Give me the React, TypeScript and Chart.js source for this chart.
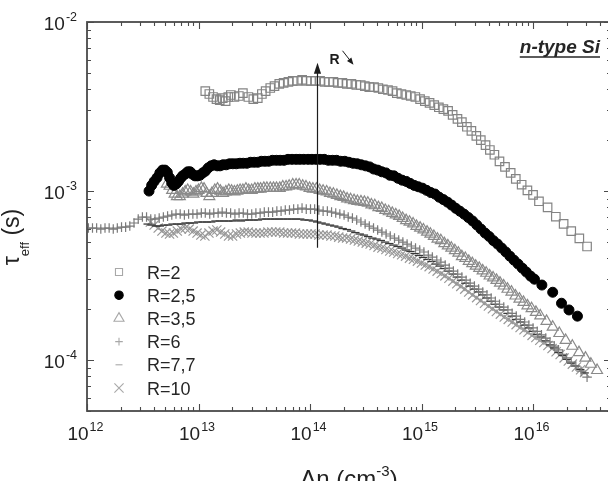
import { useEffect, useRef } from "react";
import { Chart, registerables } from "chart.js";

Chart.register(...registerables);

// ---- axis ranges and labelled decades ----
const X_MIN = 1e12;
const X_MAX = 5e16;
const Y_MIN = 5e-5;
const Y_MAX = 1e-2;
const xTickExponents = ["12", "13", "14", "15", "16"];
const yTickExponents = ["-2", "-3", "-4"];

const seriesLabels = ["R=2", "R=2,5", "R=3,5", "R=6", "R=7,7", "R=10"];

// ---- measured lifetime curves: injection level (cm^-3) vs tau_eff (s) ----
const r2X = [
  1.15e13, 1.25e13, 1.35e13, 1.45e13, 1.55e13, 1.65e13, 1.75e13, 1.85e13, 1.95e13, 2.1e13,
  2.3e13, 2.5e13, 2.8e13, 3.1e13, 3.4e13, 3.7e13, 4.0e13, 4.4e13, 4.8e13, 5.3e13,
  5.8e13, 6.4e13, 7.0e13, 7.7e13, 8.5e13, 9.3e13, 1.02e14, 1.12e14, 1.23e14, 1.35e14,
  1.48e14, 1.62e14, 1.78e14, 1.95e14, 2.14e14, 2.35e14, 2.6e14, 2.85e14, 3.1e14, 3.4e14,
  3.75e14, 4.1e14, 4.5e14, 5.0e14, 5.5e14, 6.0e14, 6.6e14, 7.3e14, 8.0e14, 8.8e14,
  9.7e14, 1.07e15, 1.18e15, 1.3e15, 1.43e15, 1.57e15, 1.73e15, 1.9e15, 2.1e15, 2.3e15,
  2.55e15, 2.8e15, 3.1e15, 3.4e15, 3.75e15, 4.1e15, 4.5e15, 5.0e15, 5.6e15, 6.3e15,
  7.0e15, 7.9e15, 8.9e15, 1.0e16, 1.13e16, 1.35e16, 1.6e16, 1.88e16, 2.2e16, 2.6e16, 3.05e16,
];
const r2Y = [
  3.9e-3, 3.75e-3, 3.6e-3, 3.5e-3, 3.45e-3, 3.55e-3, 3.4e-3, 3.6e-3, 3.7e-3, 3.6e-3,
  3.65e-3, 3.8e-3, 3.6e-3, 3.5e-3, 3.55e-3, 3.75e-3, 3.9e-3, 4.07e-3, 4.18e-3, 4.3e-3,
  4.36e-3, 4.42e-3, 4.48e-3, 4.48e-3, 4.55e-3, 4.48e-3, 4.48e-3, 4.48e-3, 4.48e-3, 4.42e-3,
  4.42e-3, 4.42e-3, 4.36e-3, 4.36e-3, 4.3e-3, 4.3e-3, 4.24e-3, 4.24e-3, 4.18e-3, 4.12e-3,
  4.12e-3, 4.07e-3, 4.0e-3, 3.96e-3, 3.9e-3, 3.8e-3, 3.75e-3, 3.7e-3, 3.65e-3, 3.6e-3,
  3.5e-3, 3.4e-3, 3.32e-3, 3.22e-3, 3.13e-3, 3.05e-3, 2.98e-3, 2.82e-3, 2.67e-3, 2.56e-3,
  2.4e-3, 2.27e-3, 2.12e-3, 2.0e-3, 1.87e-3, 1.75e-3, 1.64e-3, 1.5e-3, 1.39e-3, 1.28e-3,
  1.18e-3, 1.09e-3, 1.01e-3, 9.5e-4, 8.7e-4, 8.0e-4, 7.05e-4, 6.4e-4, 5.8e-4, 5.25e-4, 4.7e-4,
];

const r25X = [
  3.6e12, 3.8e12, 4.0e12, 4.25e12, 4.5e12, 4.75e12, 5.0e12, 5.25e12, 5.5e12, 5.75e12,
  6.0e12, 6.3e12, 6.6e12, 6.9e12, 7.2e12, 7.6e12, 8.0e12, 8.4e12, 8.8e12, 9.3e12,
  9.8e12, 1.03e13, 1.09e13, 1.15e13, 1.22e13, 1.3e13, 1.38e13, 1.47e13, 1.56e13, 1.66e13,
  1.77e13, 1.9e13, 2.03e13, 2.18e13, 2.35e13, 2.52e13, 2.72e13, 2.93e13, 3.16e13, 3.4e13,
  3.66e13, 3.94e13, 4.25e13, 4.6e13, 5.0e13, 5.4e13, 5.85e13, 6.35e13, 6.9e13, 7.5e13,
  8.1e13, 8.8e13, 9.6e13, 1.04e14, 1.13e14, 1.23e14, 1.34e14, 1.46e14, 1.59e14, 1.73e14,
  1.88e14, 2.05e14, 2.23e14, 2.43e14, 2.65e14, 2.88e14, 3.14e14, 3.42e14, 3.72e14, 4.05e14,
  4.4e14, 4.8e14, 5.2e14, 5.65e14, 6.15e14, 6.7e14, 7.3e14, 7.9e14, 8.6e14, 9.35e14,
  1.02e15, 1.11e15, 1.21e15, 1.32e15, 1.44e15, 1.57e15, 1.71e15, 1.86e15, 2.03e15, 2.21e15,
  2.41e15, 2.63e15, 2.87e15, 3.13e15, 3.41e15, 3.72e15, 4.05e15, 4.41e15, 4.8e15, 5.23e15,
  5.7e15, 6.2e15, 6.75e15, 7.35e15, 8.0e15, 8.7e15, 9.5e15, 1.03e16, 1.2e16, 1.5e16, 1.8e16, 2.1e16, 2.5e16,
];
const r25Y = [
  1.0e-3, 1.08e-3, 1.14e-3, 1.2e-3, 1.28e-3, 1.33e-3, 1.33e-3, 1.29e-3, 1.2e-3, 1.12e-3,
  1.08e-3, 1.1e-3, 1.14e-3, 1.19e-3, 1.23e-3, 1.26e-3, 1.3e-3, 1.3e-3, 1.26e-3, 1.23e-3,
  1.23e-3, 1.24e-3, 1.28e-3, 1.31e-3, 1.37e-3, 1.41e-3, 1.43e-3, 1.41e-3, 1.41e-3, 1.43e-3,
  1.43e-3, 1.45e-3, 1.45e-3, 1.45e-3, 1.46e-3, 1.46e-3, 1.46e-3, 1.48e-3, 1.48e-3, 1.48e-3,
  1.5e-3, 1.5e-3, 1.5e-3, 1.52e-3, 1.52e-3, 1.52e-3, 1.52e-3, 1.54e-3, 1.54e-3, 1.54e-3,
  1.54e-3, 1.54e-3, 1.54e-3, 1.54e-3, 1.54e-3, 1.54e-3, 1.54e-3, 1.52e-3, 1.52e-3, 1.52e-3,
  1.5e-3, 1.5e-3, 1.48e-3, 1.46e-3, 1.45e-3, 1.43e-3, 1.41e-3, 1.39e-3, 1.35e-3, 1.33e-3,
  1.3e-3, 1.28e-3, 1.24e-3, 1.23e-3, 1.19e-3, 1.16e-3, 1.14e-3, 1.11e-3, 1.08e-3, 1.06e-3,
  1.04e-3, 1.01e-3, 9.8e-4, 9.6e-4, 9.2e-4, 8.9e-4, 8.6e-4, 8.26e-4, 7.9e-4, 7.6e-4,
  7.3e-4, 6.97e-4, 6.65e-4, 6.3e-4, 5.96e-4, 5.64e-4, 5.38e-4, 5.09e-4, 4.86e-4, 4.6e-4,
  4.36e-4, 4.12e-4, 3.9e-4, 3.7e-4, 3.5e-4, 3.32e-4, 3.14e-4, 3.01e-4, 2.78e-4, 2.52e-4, 2.17e-4, 1.98e-4, 1.82e-4,
];

const r35X = [
  5.2e12, 5.5e12, 5.8e12, 6.1e12, 6.4e12, 6.8e12, 7.2e12, 7.6e12, 8.0e12, 8.5e12,
  9.0e12, 9.5e12, 1.0e13, 1.06e13, 1.12e13, 1.18e13, 1.25e13, 1.32e13, 1.4e13, 1.48e13,
  1.57e13, 1.66e13, 1.76e13, 1.87e13, 1.98e13, 2.1e13, 2.23e13, 2.36e13, 2.5e13, 2.66e13,
  2.82e13, 3.0e13, 3.2e13, 3.4e13, 3.6e13, 3.85e13, 4.1e13, 4.4e13, 4.7e13, 5.0e13,
  5.35e13, 5.7e13, 6.1e13, 6.5e13, 7.0e13, 7.5e13, 8.0e13, 8.6e13, 9.2e13, 9.9e13,
  1.06e14, 1.14e14, 1.22e14, 1.31e14, 1.41e14, 1.51e14, 1.62e14, 1.74e14, 1.87e14, 2.0e14,
  2.15e14, 2.31e14, 2.48e14, 2.66e14, 2.86e14, 3.07e14, 3.3e14, 3.55e14, 3.81e14, 4.1e14,
  4.4e14, 4.73e14, 5.08e14, 5.46e14, 5.87e14, 6.3e14, 6.77e14, 7.27e14, 7.81e14, 8.4e14,
  9.0e14, 9.7e14, 1.04e15, 1.12e15, 1.2e15, 1.29e15, 1.39e15, 1.49e15, 1.6e15, 1.72e15,
  1.85e15, 1.99e15, 2.14e15, 2.3e15, 2.47e15, 2.65e15, 2.85e15, 3.06e15, 3.29e15, 3.53e15,
  3.8e15, 4.08e15, 4.38e15, 4.7e15, 5.05e15, 5.45e15, 5.9e15, 6.4e15, 6.95e15, 7.55e15,
  8.2e15, 8.9e15, 9.7e15, 1.06e16, 1.16e16, 1.32e16, 1.5e16, 1.72e16, 1.96e16, 2.25e16,
  2.58e16, 2.95e16, 3.3e16, 3.75e16,
];
const r35Y = [
  1.1e-3, 1.07e-3, 1.01e-3, 9.6e-4, 9.3e-4, 9.3e-4, 9.6e-4, 9.9e-4, 1.01e-3, 9.9e-4,
  9.6e-4, 9.9e-4, 1.01e-3, 1.04e-3, 1.03e-3, 9.7e-4, 9.3e-4, 9.7e-4, 1.01e-3, 1.03e-3,
  1.0e-3, 9.7e-4, 9.9e-4, 1.01e-3, 1.0e-3, 9.9e-4, 1.0e-3, 1.01e-3, 1.01e-3, 1.03e-3,
  1.01e-3, 1.01e-3, 1.03e-3, 1.03e-3, 1.03e-3, 1.04e-3, 1.04e-3, 1.04e-3, 1.04e-3, 1.04e-3,
  1.04e-3, 1.06e-3, 1.06e-3, 1.07e-3, 1.09e-3, 1.09e-3, 1.09e-3, 1.07e-3, 1.06e-3, 1.04e-3,
  1.03e-3, 1.03e-3, 1.01e-3, 1.0e-3, 9.9e-4, 9.7e-4, 9.6e-4, 9.45e-4, 9.3e-4, 9.2e-4,
  9.0e-4, 8.9e-4, 8.8e-4, 8.7e-4, 8.65e-4, 8.6e-4, 8.5e-4, 8.3e-4, 8.2e-4, 8.0e-4,
  7.9e-4, 7.7e-4, 7.56e-4, 7.4e-4, 7.25e-4, 7.1e-4, 6.9e-4, 6.7e-4, 6.56e-4, 6.4e-4,
  6.2e-4, 6.05e-4, 5.9e-4, 5.73e-4, 5.57e-4, 5.4e-4, 5.2e-4, 5.1e-4, 4.9e-4, 4.75e-4,
  4.6e-4, 4.45e-4, 4.3e-4, 4.1e-4, 4.0e-4, 3.85e-4, 3.73e-4, 3.6e-4, 3.5e-4, 3.38e-4,
  3.27e-4, 3.15e-4, 3.07e-4, 2.97e-4, 2.86e-4, 2.75e-4, 2.63e-4, 2.53e-4, 2.4e-4, 2.3e-4,
  2.2e-4, 2.1e-4, 2.02e-4, 1.92e-4, 1.83e-4, 1.7e-4, 1.57e-4, 1.44e-4, 1.31e-4, 1.21e-4,
  1.11e-4, 1.03e-4, 9.47e-5, 8.7e-5,
];

const r6X = [
  1.03e12, 1.12e12, 1.22e12, 1.33e12, 1.45e12, 1.58e12, 1.72e12, 1.87e12, 2.04e12, 2.22e12,
  2.42e12, 2.64e12, 2.88e12, 3.14e12, 3.42e12, 3.73e12, 4.07e12, 4.44e12, 4.84e12, 5.28e12,
  5.76e12, 6.28e12, 6.85e12, 7.47e12, 8.15e12, 8.9e12, 9.7e12, 1.06e13, 1.15e13, 1.26e13,
  1.37e13, 1.5e13, 1.63e13, 1.78e13, 1.94e13, 2.12e13, 2.31e13, 2.52e13, 2.75e13, 3.0e13,
  3.27e13, 3.57e13, 3.89e13, 4.24e13, 4.62e13, 5.04e13, 5.5e13, 6.0e13, 6.54e13, 7.13e13,
  7.78e13, 8.48e13, 9.25e13, 1.01e14, 1.1e14, 1.2e14, 1.31e14, 1.43e14, 1.56e14, 1.7e14,
  1.85e14, 2.02e14, 2.2e14, 2.4e14, 2.62e14, 2.86e14, 3.12e14, 3.4e14, 3.71e14, 4.04e14,
  4.41e14, 4.81e14, 5.24e14, 5.72e14, 6.24e14, 6.8e14, 7.42e14, 8.1e14, 8.83e14, 9.63e14,
  1.05e15, 1.15e15, 1.25e15, 1.37e15, 1.49e15, 1.63e15, 1.77e15, 1.93e15, 2.11e15, 2.3e15,
  2.51e15, 2.73e15, 2.98e15, 3.25e15, 3.54e15, 3.86e15, 4.21e15, 4.59e15, 5.0e15, 5.46e15,
  5.95e15, 6.49e15, 7.07e15, 7.71e15, 8.41e15, 9.17e15, 1.0e16, 1.09e16, 1.19e16, 1.3e16,
  1.42e16, 1.55e16, 1.69e16, 1.84e16, 2.0e16, 2.2e16, 2.42e16, 2.7e16, 3.05e16,
];
const r6Y = [
  6.04e-4, 6.04e-4, 6.04e-4, 5.96e-4, 6.04e-4, 6.04e-4, 5.96e-4, 6.04e-4, 6.12e-4, 6.12e-4,
  6.21e-4, 6.47e-4, 6.83e-4, 7.02e-4, 7.02e-4, 6.83e-4, 6.83e-4, 6.92e-4, 7.02e-4, 7.11e-4,
  7.21e-4, 7.31e-4, 7.31e-4, 7.21e-4, 7.31e-4, 7.31e-4, 7.31e-4, 7.41e-4, 7.41e-4, 7.31e-4,
  7.41e-4, 7.41e-4, 7.51e-4, 7.41e-4, 7.41e-4, 7.31e-4, 7.41e-4, 7.41e-4, 7.31e-4, 7.31e-4,
  7.41e-4, 7.41e-4, 7.51e-4, 7.51e-4, 7.51e-4, 7.61e-4, 7.61e-4, 7.72e-4, 7.72e-4, 7.82e-4,
  7.82e-4, 7.93e-4, 7.82e-4, 7.82e-4, 7.82e-4, 7.72e-4, 7.61e-4, 7.61e-4, 7.51e-4, 7.41e-4,
  7.31e-4, 7.21e-4, 7.02e-4, 6.92e-4, 6.74e-4, 6.56e-4, 6.38e-4, 6.21e-4, 6.04e-4, 5.88e-4,
  5.72e-4, 5.57e-4, 5.42e-4, 5.27e-4, 5.13e-4, 4.99e-4, 4.86e-4, 4.73e-4, 4.6e-4, 4.48e-4,
  4.36e-4, 4.18e-4, 4.07e-4, 3.91e-4, 3.8e-4, 3.65e-4, 3.5e-4, 3.36e-4, 3.23e-4, 3.1e-4,
  2.97e-4, 2.85e-4, 2.74e-4, 2.63e-4, 2.53e-4, 2.43e-4, 2.33e-4, 2.23e-4, 2.14e-4, 2.06e-4,
  1.98e-4, 1.89e-4, 1.82e-4, 1.74e-4, 1.68e-4, 1.61e-4, 1.55e-4, 1.48e-4, 1.41e-4, 1.35e-4,
  1.28e-4, 1.21e-4, 1.15e-4, 1.08e-4, 1.03e-4, 9.73e-5, 9.22e-5, 8.6e-5, 7.93e-5,
];

const r77X = [
  3.5e12, 3.8e12, 4.15e12, 4.5e12, 4.9e12, 5.35e12, 5.85e12, 6.4e12, 7.0e12, 7.65e12,
  8.35e12, 9.1e12, 9.95e12, 1.09e13, 1.19e13, 1.3e13, 1.42e13, 1.55e13, 1.69e13, 1.85e13,
  2.02e13, 2.2e13, 2.4e13, 2.62e13, 2.86e13, 3.12e13, 3.41e13, 3.72e13, 4.06e13, 4.43e13,
  4.84e13, 5.28e13, 5.76e13, 6.29e13, 6.86e13, 7.49e13, 8.17e13, 8.92e13, 9.73e13, 1.06e14,
  1.16e14, 1.27e14, 1.38e14, 1.51e14, 1.65e14, 1.8e14, 1.96e14, 2.14e14, 2.34e14, 2.55e14,
  2.79e14, 3.04e14, 3.32e14, 3.62e14, 3.95e14, 4.31e14, 4.71e14, 5.14e14, 5.61e14, 6.12e14,
  6.68e14, 7.29e14, 7.95e14, 8.68e14, 9.47e14, 1.03e15, 1.13e15, 1.23e15, 1.34e15, 1.46e15,
  1.6e15, 1.74e15, 1.9e15, 2.07e15, 2.26e15, 2.47e15, 2.69e15, 2.94e15, 3.2e15, 3.5e15,
  3.82e15, 4.17e15, 4.55e15, 4.96e15, 5.41e15, 5.9e15, 6.44e15, 7.03e15, 7.67e15, 8.37e15,
  9.13e15, 9.96e15, 1.09e16, 1.19e16, 1.3e16, 1.42e16, 1.55e16, 1.69e16, 1.84e16, 2.01e16,
  2.2e16, 2.4e16, 2.65e16, 2.9e16,
];
const r77Y = [
  6.38e-4, 6.29e-4, 6.21e-4, 6.21e-4, 6.29e-4, 6.29e-4, 6.38e-4, 6.38e-4, 6.38e-4, 6.47e-4,
  6.47e-4, 6.47e-4, 6.56e-4, 6.56e-4, 6.56e-4, 6.56e-4, 6.65e-4, 6.65e-4, 6.65e-4, 6.65e-4,
  6.65e-4, 6.74e-4, 6.65e-4, 6.74e-4, 6.74e-4, 6.74e-4, 6.74e-4, 6.83e-4, 6.83e-4, 6.83e-4,
  6.83e-4, 6.83e-4, 6.83e-4, 6.83e-4, 6.83e-4, 6.83e-4, 6.83e-4, 6.74e-4, 6.74e-4, 6.65e-4,
  6.56e-4, 6.47e-4, 6.38e-4, 6.29e-4, 6.21e-4, 6.12e-4, 6.0e-4, 5.92e-4, 5.8e-4, 5.68e-4,
  5.57e-4, 5.49e-4, 5.38e-4, 5.27e-4, 5.2e-4, 5.1e-4, 4.99e-4, 4.89e-4, 4.79e-4, 4.7e-4,
  4.6e-4, 4.48e-4, 4.39e-4, 4.27e-4, 4.16e-4, 4.05e-4, 3.94e-4, 3.83e-4, 3.7e-4, 3.6e-4,
  3.48e-4, 3.36e-4, 3.23e-4, 3.1e-4, 2.97e-4, 2.85e-4, 2.74e-4, 2.63e-4, 2.53e-4, 2.43e-4,
  2.33e-4, 2.23e-4, 2.14e-4, 2.06e-4, 1.98e-4, 1.89e-4, 1.82e-4, 1.74e-4, 1.68e-4, 1.61e-4,
  1.55e-4, 1.48e-4, 1.42e-4, 1.37e-4, 1.3e-4, 1.23e-4, 1.18e-4, 1.11e-4, 1.065e-4, 1.01e-4,
  9.6e-5, 9.22e-5, 8.8e-5, 8.4e-5,
];

const r10X = [
  3.7e12, 4.0e12, 4.35e12, 4.7e12, 5.1e12, 5.5e12, 5.95e12, 6.45e12, 7.0e12, 7.6e12,
  8.25e12, 8.95e12, 9.7e12, 1.05e13, 1.14e13, 1.24e13, 1.35e13, 1.46e13, 1.58e13, 1.72e13,
  1.86e13, 2.02e13, 2.19e13, 2.37e13, 2.57e13, 2.79e13, 3.02e13, 3.28e13, 3.56e13, 3.86e13,
  4.19e13, 4.54e13, 4.93e13, 5.35e13, 5.8e13, 6.29e13, 6.82e13, 7.4e13, 8.03e13, 8.71e13,
  9.45e13, 1.02e14, 1.11e14, 1.2e14, 1.31e14, 1.42e14, 1.54e14, 1.67e14, 1.81e14, 1.96e14,
  2.13e14, 2.31e14, 2.5e14, 2.71e14, 2.94e14, 3.19e14, 3.46e14, 3.75e14, 4.07e14, 4.41e14,
  4.79e14, 5.19e14, 5.63e14, 6.11e14, 6.63e14, 7.19e14, 7.8e14, 8.46e14, 9.18e14, 9.96e14,
  1.08e15, 1.17e15, 1.27e15, 1.38e15, 1.5e15, 1.62e15, 1.76e15, 1.91e15, 2.07e15, 2.25e15,
  2.44e15, 2.65e15, 2.87e15, 3.12e15, 3.38e15, 3.67e15, 3.98e15, 4.32e15, 4.69e15, 5.09e15,
  5.52e15, 5.99e15, 6.5e15, 7.05e15, 7.65e15, 8.3e15, 9.0e15, 9.8e15, 1.06e16, 1.15e16,
  1.25e16, 1.36e16, 1.48e16, 1.61e16, 1.75e16, 1.9e16, 2.07e16, 2.25e16, 2.45e16, 2.67e16, 2.9e16,
];
const r10Y = [
  6.56e-4, 6.29e-4, 6.04e-4, 5.8e-4, 5.64e-4, 5.57e-4, 5.64e-4, 5.8e-4, 5.96e-4, 6.04e-4,
  5.96e-4, 5.8e-4, 5.64e-4, 5.49e-4, 5.42e-4, 5.64e-4, 5.8e-4, 5.88e-4, 5.72e-4, 5.57e-4,
  5.42e-4, 5.42e-4, 5.57e-4, 5.64e-4, 5.72e-4, 5.72e-4, 5.64e-4, 5.64e-4, 5.64e-4, 5.64e-4,
  5.72e-4, 5.72e-4, 5.72e-4, 5.72e-4, 5.64e-4, 5.64e-4, 5.64e-4, 5.64e-4, 5.57e-4, 5.57e-4,
  5.57e-4, 5.57e-4, 5.57e-4, 5.49e-4, 5.49e-4, 5.49e-4, 5.42e-4, 5.42e-4, 5.34e-4, 5.27e-4,
  5.27e-4, 5.2e-4, 5.13e-4, 5.06e-4, 4.99e-4, 4.92e-4, 4.86e-4, 4.76e-4, 4.66e-4, 4.6e-4,
  4.51e-4, 4.42e-4, 4.36e-4, 4.27e-4, 4.2e-4, 4.12e-4, 4.01e-4, 3.95e-4, 3.85e-4, 3.75e-4,
  3.65e-4, 3.57e-4, 3.46e-4, 3.36e-4, 3.25e-4, 3.15e-4, 3.05e-4, 2.93e-4, 2.83e-4, 2.73e-4,
  2.63e-4, 2.53e-4, 2.43e-4, 2.34e-4, 2.25e-4, 2.17e-4, 2.09e-4, 2.01e-4, 1.94e-4, 1.87e-4,
  1.8e-4, 1.74e-4, 1.68e-4, 1.62e-4, 1.56e-4, 1.51e-4, 1.46e-4, 1.4e-4, 1.36e-4, 1.31e-4,
  1.27e-4, 1.22e-4, 1.17e-4, 1.12e-4, 1.08e-4, 1.03e-4, 9.87e-5, 9.47e-5, 9.1e-5, 8.77e-5, 8.46e-5,
];

// vertical arrow marking the trend with R
const arrowX = 1.15e14;
const arrowFrom = 4.62e-4;
const arrowTo = 5.74e-3;

// ---- styling ----
const FONT = '"Liberation Sans", Arial, Helvetica, sans-serif';
const INK = "#222222";
const AXIS = "#4a4a4a";
const CLEAR = "rgba(0,0,0,0)";

type Marker = {
  style: string;
  radius: number;
  width: number;
  stroke: string;
  fill: string;
  legendRadius: number;
  legendStroke: string;
};

const markers: Marker[] = [
  { style: "rect", radius: 6, width: 1.2, stroke: "#848484", fill: CLEAR, legendRadius: 5, legendStroke: "#a8a8a8" },
  { style: "circle", radius: 5, width: 1, stroke: "#000000", fill: "#000000", legendRadius: 4.2, legendStroke: "#000000" },
  { style: "triangle", radius: 6.3, width: 1.2, stroke: "#8a8a8a", fill: CLEAR, legendRadius: 5.8, legendStroke: "#a8a8a8" },
  { style: "cross", radius: 4.8, width: 1.2, stroke: "#7a7a7a", fill: CLEAR, legendRadius: 3.8, legendStroke: "#a8a8a8" },
  { style: "line", radius: 4.2, width: 1.3, stroke: "#3a3a3a", fill: CLEAR, legendRadius: 3.5, legendStroke: "#a8a8a8" },
  { style: "crossRot", radius: 6.5, width: 1.2, stroke: "#989898", fill: CLEAR, legendRadius: 6.5, legendStroke: "#a8a8a8" },
];

const seriesX = [r2X, r25X, r35X, r6X, r77X, r10X];
const seriesY = [r2Y, r25Y, r35Y, r6Y, r77Y, r10Y];

function drawMarker(ctx: CanvasRenderingContext2D, style: string, x: number, y: number, r: number) {
  ctx.beginPath();
  switch (style) {
    case "rect": {
      const s = r * Math.SQRT1_2;
      ctx.rect(x - s, y - s, 2 * s, 2 * s);
      break;
    }
    case "circle":
      ctx.arc(x, y, r, 0, Math.PI * 2);
      break;
    case "triangle": {
      const a = (2 * Math.PI) / 3;
      ctx.moveTo(x, y - r);
      ctx.lineTo(x + r * Math.sin(a), y - r * Math.cos(a));
      ctx.lineTo(x + r * Math.sin(2 * a), y - r * Math.cos(2 * a));
      ctx.closePath();
      break;
    }
    case "cross":
      ctx.moveTo(x, y - r);
      ctx.lineTo(x, y + r);
      ctx.moveTo(x - r, y);
      ctx.lineTo(x + r, y);
      break;
    case "crossRot": {
      const d = r * Math.SQRT1_2;
      ctx.moveTo(x - d, y - d);
      ctx.lineTo(x + d, y + d);
      ctx.moveTo(x + d, y - d);
      ctx.lineTo(x - d, y + d);
      break;
    }
    case "line":
      ctx.moveTo(x - r, y);
      ctx.lineTo(x + r, y);
      break;
  }
  ctx.fill();
  ctx.stroke();
}

// "10" with a raised exponent
function drawPower(
  ctx: CanvasRenderingContext2D,
  exp: string,
  x: number,
  baseline: number,
  align: "center" | "right"
) {
  const big = `19px ${FONT}`;
  const small = `12.5px ${FONT}`;
  ctx.font = big;
  const w1 = ctx.measureText("10").width;
  ctx.font = small;
  const w2 = ctx.measureText(exp).width;
  const gap = 1;
  const total = w1 + gap + w2;
  const left = align === "center" ? x - total / 2 : x - total;
  ctx.textAlign = "left";
  ctx.font = big;
  ctx.fillText("10", left, baseline);
  ctx.font = small;
  ctx.fillText(exp, left + w1 + gap, baseline - 9);
}

const decorPlugin = {
  id: "decor",
  afterDraw(chart: any) {
    const ctx: CanvasRenderingContext2D = chart.ctx;
    const a = chart.chartArea;
    const xs = chart.scales.x;
    const ys = chart.scales.y;
    ctx.save();
    ctx.textBaseline = "alphabetic";

    // arrow across the curves
    const ax = Math.round(xs.getPixelForValue(arrowX)) + 0.5;
    const ay0 = ys.getPixelForValue(arrowFrom);
    const ay1 = ys.getPixelForValue(arrowTo);
    ctx.strokeStyle = "#1c1c1c";
    ctx.fillStyle = "#1c1c1c";
    ctx.lineWidth = 1.2;
    ctx.beginPath();
    ctx.moveTo(ax, ay0);
    ctx.lineTo(ax, ay1 + 8);
    ctx.stroke();
    ctx.beginPath();
    ctx.moveTo(ax, ay1);
    ctx.lineTo(ax - 3.6, ay1 + 11);
    ctx.lineTo(ax + 3.6, ay1 + 11);
    ctx.closePath();
    ctx.fill();

    ctx.font = `bold 14px ${FONT}`;
    ctx.textAlign = "left";
    ctx.fillText("R", ax + 12, ay1 + 1);
    const sx0 = ax + 25;
    const sy0 = ay1 - 12;
    const sx1 = ax + 36;
    const sy1 = ay1 + 2;
    const th = Math.atan2(sy1 - sy0, sx1 - sx0);
    ctx.lineWidth = 1;
    ctx.beginPath();
    ctx.moveTo(sx0, sy0);
    ctx.lineTo(sx1 - 4 * Math.cos(th), sy1 - 4 * Math.sin(th));
    ctx.stroke();
    ctx.beginPath();
    ctx.moveTo(sx1, sy1);
    ctx.lineTo(sx1 - 7 * Math.cos(th) + 2.8 * Math.sin(th), sy1 - 7 * Math.sin(th) - 2.8 * Math.cos(th));
    ctx.lineTo(sx1 - 7 * Math.cos(th) - 2.8 * Math.sin(th), sy1 - 7 * Math.sin(th) + 2.8 * Math.cos(th));
    ctx.closePath();
    ctx.fill();

    // frame
    ctx.strokeStyle = AXIS;
    ctx.lineWidth = 1.8;
    ctx.strokeRect(a.left, a.top, a.right - a.left, a.bottom - a.top);

    // inward ticks on all four sides
    ctx.lineWidth = 1.1;
    ctx.beginPath();
    for (let e = 12; e <= 16; e++) {
      for (let m = 1; m <= 9; m++) {
        const v = m * Math.pow(10, e);
        if (v < X_MIN * 0.999 || v > X_MAX * 1.001) continue;
        const px = Math.round(xs.getPixelForValue(v)) + 0.5;
        const len = m === 1 ? 7 : 4;
        ctx.moveTo(px, a.bottom);
        ctx.lineTo(px, a.bottom - len);
        ctx.moveTo(px, a.top);
        ctx.lineTo(px, a.top + len);
      }
    }
    for (let e = -5; e <= -2; e++) {
      for (let m = 1; m <= 9; m++) {
        const v = m * Math.pow(10, e);
        if (v < Y_MIN * 0.999 || v > Y_MAX * 1.001) continue;
        const py = Math.round(ys.getPixelForValue(v)) + 0.5;
        const len = m === 1 ? 7 : 4;
        ctx.moveTo(a.left, py);
        ctx.lineTo(a.left + len, py);
        ctx.moveTo(a.right, py);
        ctx.lineTo(a.right - len, py);
      }
    }
    ctx.stroke();

    // tick labels
    ctx.fillStyle = INK;
    for (const e of xTickExponents) {
      const px = xs.getPixelForValue(Math.pow(10, Number(e)));
      drawPower(ctx, e, px - 1.5, 440, "center");
    }
    for (const e of yTickExponents) {
      const py = ys.getPixelForValue(Math.pow(10, Number(e)));
      drawPower(ctx, e, a.left - 10, py + 8, "right");
    }

    // y-axis title
    ctx.save();
    ctx.translate(19, 237);
    ctx.rotate(-Math.PI / 2);
    ctx.font = `23px ${FONT}`;
    const wTau = ctx.measureText("\u03c4").width;
    const wUnit = ctx.measureText(" (s)").width;
    ctx.font = `13px ${FONT}`;
    const wSub = ctx.measureText("eff").width;
    let tx = -(wTau + wSub + wUnit) / 2;
    ctx.textAlign = "left";
    ctx.font = `23px ${FONT}`;
    ctx.fillText("\u03c4", tx, 0);
    tx += wTau;
    ctx.font = `13px ${FONT}`;
    ctx.fillText("eff", tx, 10);
    tx += wSub;
    ctx.font = `23px ${FONT}`;
    ctx.fillText(" (s)", tx, 0);
    ctx.restore();

    // x-axis title
    ctx.font = `24px ${FONT}`;
    const wMain = ctx.measureText("\u0394n (cm").width;
    const wClose = ctx.measureText(")").width;
    ctx.font = `15px ${FONT}`;
    const wSup = ctx.measureText("-3").width;
    const cx = (a.left + a.right) / 2;
    let ux = cx - (wMain + wSup + wClose) / 2;
    const ub = 487;
    ctx.textAlign = "left";
    ctx.font = `24px ${FONT}`;
    ctx.fillText("\u0394n (cm", ux, ub);
    ux += wMain;
    ctx.font = `15px ${FONT}`;
    ctx.fillText("-3", ux, ub - 11);
    ux += wSup;
    ctx.font = `24px ${FONT}`;
    ctx.fillText(")", ux, ub);

    // material tag
    ctx.font = `italic bold 19px ${FONT}`;
    ctx.textAlign = "right";
    ctx.fillStyle = "#262626";
    ctx.fillText("n-type Si", 600, 53);
    const wTag = ctx.measureText("n-type Si").width;
    ctx.strokeStyle = "#262626";
    ctx.lineWidth = 1.5;
    ctx.beginPath();
    ctx.moveTo(600 - wTag, 57);
    ctx.lineTo(600, 57);
    ctx.stroke();

    // legend
    const lx = 119;
    const ltx = 147;
    const ly0 = 272;
    const ldy = 23.2;
    seriesLabels.forEach((label, i) => {
      const mk = markers[i];
      const y = ly0 + i * ldy;
      ctx.lineWidth = 1.1;
      ctx.strokeStyle = mk.legendStroke;
      ctx.fillStyle = mk.fill === CLEAR ? CLEAR : mk.legendStroke;
      drawMarker(ctx, mk.style, lx, y, mk.legendRadius);
      ctx.fillStyle = "#262626";
      ctx.font = `18px ${FONT}`;
      ctx.textAlign = "left";
      ctx.fillText(label, ltx, y + 6.5);
    });

    ctx.restore();
  },
};

export default function App() {
  const ref = useRef<HTMLCanvasElement | null>(null);

  useEffect(() => {
    const canvas = ref.current;
    if (!canvas) return;
    const datasets = seriesLabels.map((label, i) => {
      const mk = markers[i];
      return {
        label,
        data: seriesX[i].map((x, j) => ({ x, y: seriesY[i][j] })),
        pointStyle: mk.style as any,
        pointRadius: mk.radius,
        pointHoverRadius: mk.radius,
        borderColor: mk.stroke,
        backgroundColor: mk.fill,
        pointBorderColor: mk.stroke,
        pointBackgroundColor: mk.fill,
        pointBorderWidth: mk.width,
        showLine: false,
      };
    });
    const chart = new Chart(canvas, {
      type: "scatter",
      data: { datasets },
      options: {
        animation: false,
        responsive: false,
        devicePixelRatio: 1,
        events: [],
        layout: { padding: { left: 87, right: 9, top: 22, bottom: 70 } },
        plugins: { legend: { display: false }, tooltip: { enabled: false } },
        scales: {
          x: { type: "logarithmic", min: X_MIN, max: X_MAX, display: false },
          y: { type: "logarithmic", min: Y_MIN, max: Y_MAX, display: false },
        },
      },
      plugins: [decorPlugin],
    });
    return () => chart.destroy();
  }, []);

  return (
    <div
      style={{
        position: "fixed",
        left: 0,
        top: 0,
        width: 608,
        height: 481,
        overflow: "hidden",
        background: "#ffffff",
      }}
    >
      <canvas ref={ref} width={620} height={481} style={{ display: "block", width: 620, height: 481 }} />
    </div>
  );
}
